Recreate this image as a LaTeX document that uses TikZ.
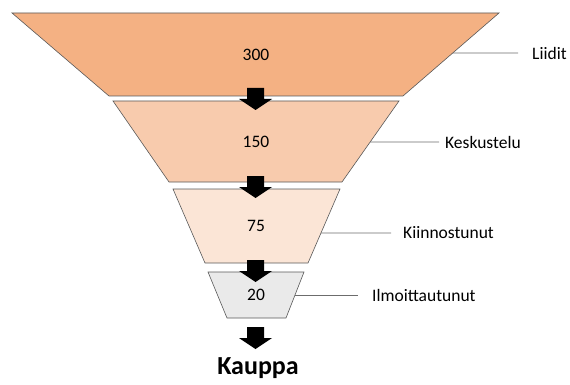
\documentclass[tikz,border=0pt]{standalone}
\usepackage{fontspec}
\setmainfont{Carlito}
\usetikzlibrary{calc}
\definecolor{c1}{HTML}{F4B183}
\definecolor{c2}{HTML}{F8CBAD}
\definecolor{c3}{HTML}{FBE5D6}
\definecolor{c4}{HTML}{EAEAEA}
\definecolor{edge}{HTML}{595959}
\tikzset{
  stage/.style={draw=edge, line width=0.6pt, line join=miter},
  num/.style={font=\fontsize{17.5}{20}\selectfont, inner sep=0pt},
  lbl/.style={font=\fontsize{17.5}{20}\selectfont, anchor=west, inner sep=0pt},
  leader/.style={draw=gray!85!black, line width=0.7pt},
  blockarrow/.pic={\fill[black] (-8.5,0) -- (8.5,0) -- (8.5,11) -- (16.5,11) -- (0,22) -- (-16.5,11) -- (-8.5,11) -- cycle;}
}
\begin{document}
\begin{tikzpicture}[x=1pt,y=-1pt]
\useasboundingbox (0,0) rectangle (570,385);
% stages
\path[stage, fill=c1] (12,13) -- (499,13) coordinate (r1t) -- (403,96) coordinate (r1b) -- (109,96) -- cycle;
\path[stage, fill=c2] (113,101) -- (399,101) coordinate (r2t) -- (342,182) coordinate (r2b) -- (169,182) -- cycle;
\path[stage, fill=c3] (173,189) -- (340,189) coordinate (r3t) -- (308,263) coordinate (r3b) -- (205,263) -- cycle;
\path[stage, fill=c4] (208,272) -- (304,272) coordinate (r4t) -- (286,318) coordinate (r4b) -- (227,318) -- cycle;
% numbers
\node[num] (n1) at (256,55) {300};
\node[num] (n2) at (256,142) {150};
\node[num] (n3) at (256,226) {75};
\node[num] (n4) at (256,295) {20};
% arrows
\pic at (255.5,88) {blockarrow};
\pic at (255.5,176) {blockarrow};
\pic at (255.5,260) {blockarrow};
\pic at (255.5,327) {blockarrow};
\node[font=\bfseries\fontsize{26}{30}\selectfont, inner sep=0pt] (k) at (258,368) {Kauppa};
% labels
\node[lbl] (l1) at (532,53) {Liidit};
\node[lbl] (l2) at (445,142) {Keskustelu};
\node[lbl] (l3) at (403,233) {Kiinnostunut};
\node[lbl] (l4) at (372,295) {Ilmoittautunut};
\coordinate (e1) at ($(r1t)!0.482!(r1b)$);
\coordinate (e2) at ($(r2t)!0.506!(r2b)$);
\coordinate (e3) at ($(r3t)!0.595!(r3b)$);
\coordinate (e4) at ($(r4t)!0.5!(r4b)$);
\coordinate (f1) at (518,53);
\coordinate (f2) at (439,142);
\coordinate (f3) at (391,233);
\coordinate (f4) at (358,295);
\draw[leader] (e1) -- (f1);
\draw[leader] (e2) -- (f2);
\draw[leader] (e3) -- (f3);
\draw[leader] (e4) -- (f4);
\end{tikzpicture}
\end{document}
